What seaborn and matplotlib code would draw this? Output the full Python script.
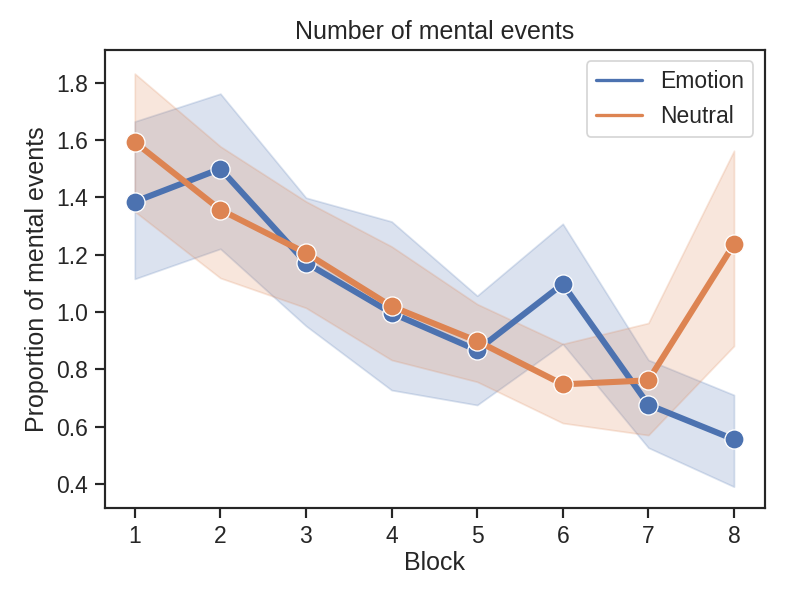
import matplotlib

matplotlib.use("Agg")
import matplotlib.pyplot as plt
import pandas as pd
import seaborn as sns
from matplotlib.lines import Line2D

# Values
blocks = [1, 2, 3, 4, 5, 6, 7, 8]
conditions = ["Emotion", "Neutral"]

emotion_mean = [1.385, 1.50, 1.172, 0.997, 0.867, 1.098, 0.677, 0.556]
emotion_low = [1.116, 1.221, 0.952, 0.728, 0.676, 0.889, 0.527, 0.391]
emotion_high = [1.665, 1.762, 1.399, 1.316, 1.057, 1.308, 0.833, 0.711]

neutral_mean = [1.593, 1.357, 1.206, 1.020, 0.899, 0.748, 0.762, 1.237]
neutral_low = [1.351, 1.119, 1.015, 0.833, 0.757, 0.613, 0.571, 0.882]
neutral_high = [1.832, 1.578, 1.386, 1.229, 1.028, 0.889, 0.962, 1.563]


def main():
    sns.set_theme(style="ticks", context="notebook", font_scale=1.2)
    plt.rcParams["font.family"] = ["Liberation Sans", "DejaVu Sans"]
    plt.rcParams["xtick.major.size"] = 6
    plt.rcParams["ytick.major.size"] = 6
    palette = sns.color_palette("deep")[:2]

    df = pd.DataFrame(
        {
            "Block": blocks * 2,
            "Proportion": emotion_mean + neutral_mean,
            "Condition": ["Emotion"] * len(blocks) + ["Neutral"] * len(blocks),
        }
    )

    fig, ax = plt.subplots(figsize=(6.4, 4.8), dpi=125)

    # CI bands
    bands = {
        "Emotion": (emotion_low, emotion_high),
        "Neutral": (neutral_low, neutral_high),
    }
    for color, cond in zip(palette, conditions):
        low, high = bands[cond]
        ax.fill_between(blocks, low, high, color=color, alpha=0.2)

    sns.lineplot(
        data=df,
        x="Block",
        y="Proportion",
        hue="Condition",
        palette=palette,
        marker="o",
        markersize=11,
        markeredgecolor="white",
        linewidth=3.5,
        errorbar=None,
        legend=False,
        ax=ax,
    )

    handles = [Line2D([0], [0], color=c, lw=1.9) for c in palette]
    ax.legend(handles, conditions, loc="upper right")

    ax.set_title("Number of mental events")
    ax.set_xlabel("Block", labelpad=2)
    ax.set_ylabel("Proportion of mental events")
    ax.set_xticks(blocks)
    ax.set_ylim(0.316, 1.915)
    ax.set_xlim(0.65, 8.36)

    fig.subplots_adjust(left=0.131, right=0.956, top=0.917, bottom=0.153)
    plt.savefig("out.png")
    plt.close()


if __name__ == "__main__":
    main()
